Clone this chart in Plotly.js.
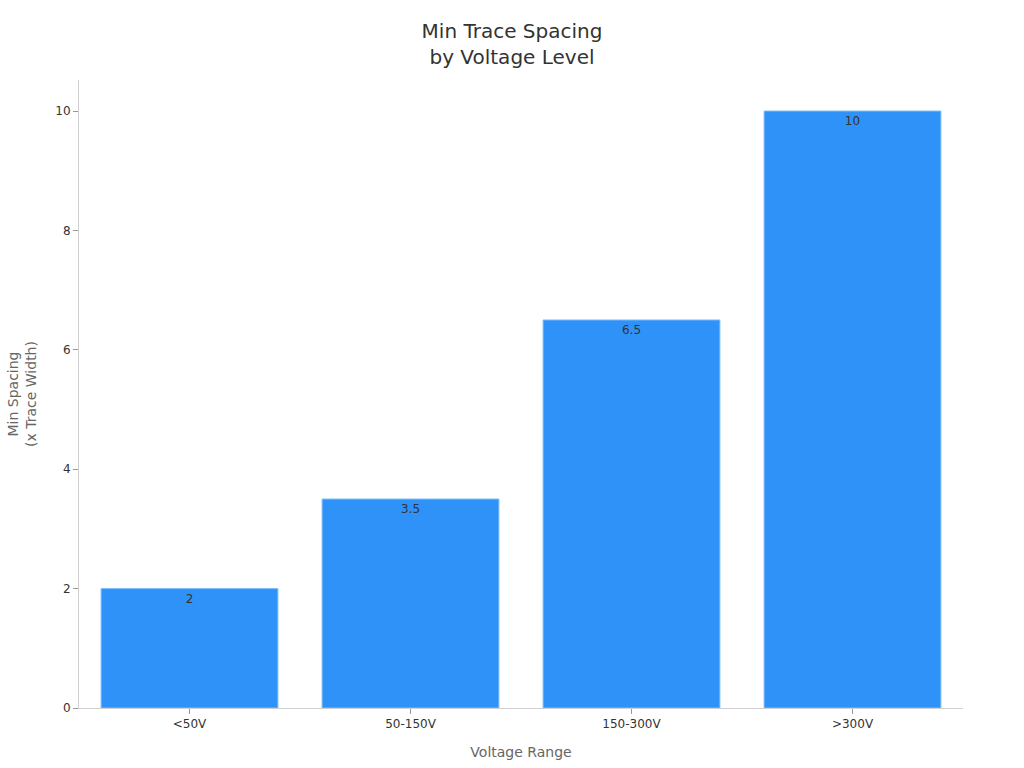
<!DOCTYPE html>
<html>
<head>
<meta charset="utf-8">
<script src="https://cdn.plot.ly/plotly-3.0.1.min.js"></script>
<style>
  html, body { margin: 0; padding: 0; background: #fff; }
  #chart { width: 1024px; height: 768px; }
</style>
</head>
<body>
<div id="chart"></div>
<script>
// voltage ranges and the minimum spacing for each (in trace widths)
const voltageRanges = ['<50V', '50-150V', '150-300V', '>300V'];
const minSpacing = [2, 3.5, 6.5, 10];
const barLabels = ['2', '3.5', '6.5', '10'];

const trace = {
    type: 'bar',
    x: voltageRanges,
    y: minSpacing,
    text: barLabels,
    textposition: 'inside',
    insidetextanchor: 'end',
    textangle: 0,
    textfont: { family: 'DejaVu Sans, sans-serif', size: 12, color: '#333333' },
    marker: {
        color: '#2f92f8',
        line: { color: '#7cbcf9', width: 1 }
    },
    hoverinfo: 'x+y'
};

const layout = {
    width: 1024,
    height: 768,
    margin: { l: 79, r: 61, t: 80, b: 60 },
    paper_bgcolor: '#ffffff',
    plot_bgcolor: '#ffffff',
    font: { family: 'DejaVu Sans, sans-serif', size: 12, color: '#333333' },
    title: {
        text: 'Min Trace Spacing<br>by Voltage Level',
        font: { size: 20, color: '#333333' },
        x: 0.5,
        xanchor: 'center',
        y: 0.95,
        yanchor: 'top'
    },
    bargap: 0.2,
    showlegend: false,
    xaxis: {
        title: { text: 'Voltage Range', font: { size: 14, color: '#666666' }, standoff: 16 },
        showline: true,
        linecolor: '#d0d0d0',
        ticks: 'outside',
        tickcolor: '#999999',
        ticklen: 5,
        tickfont: { size: 12, color: '#333333' },
        showgrid: false,
        zeroline: false
    },
    yaxis: {
        title: { text: 'Min Spacing<br>(x Trace Width)', font: { size: 14, color: '#666666' }, standoff: 15 },
        range: [0, 10.52],
        dtick: 2,
        showline: true,
        linecolor: '#d0d0d0',
        ticks: 'outside',
        tickcolor: '#999999',
        ticklen: 5,
        tickfont: { size: 12, color: '#333333' },
        showgrid: false,
        zeroline: false
    }
};

Plotly.newPlot('chart', [trace], layout, { displayModeBar: false, responsive: false });
</script>
</body>
</html>
